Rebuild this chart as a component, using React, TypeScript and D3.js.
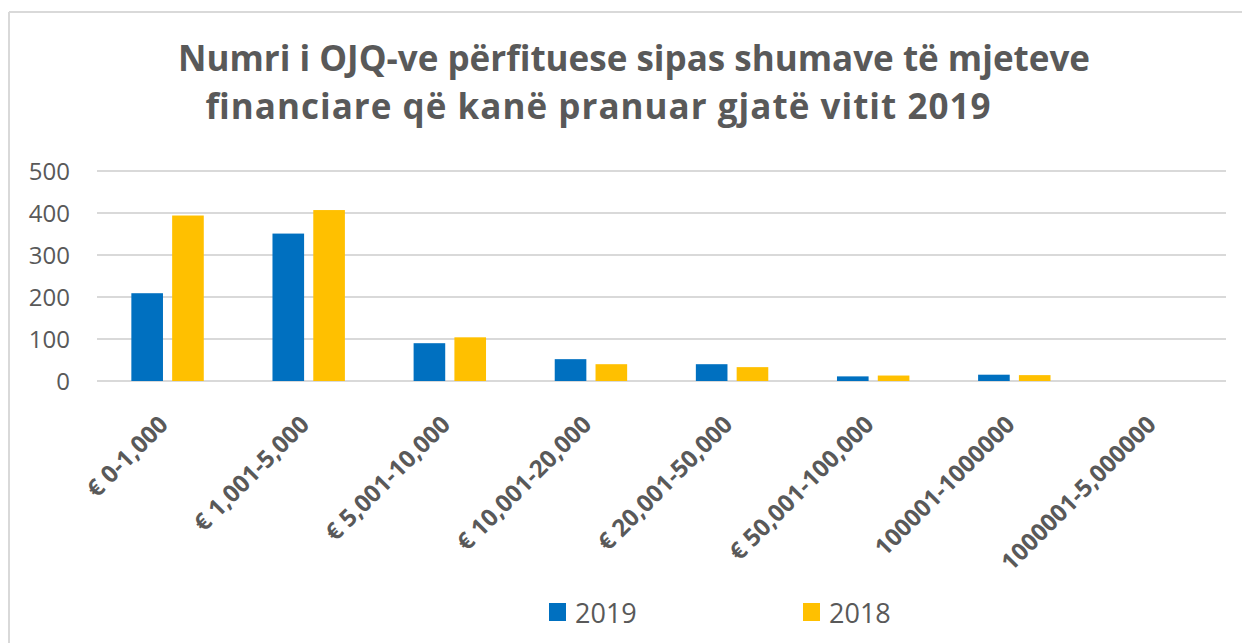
import React from 'react';
import * as d3 from 'd3';

// chart data
const categories = [
  '€ 0-1,000',
  '€ 1,001-5,000',
  '€ 5,001-10,000',
  '€ 10,001-20,000',
  '€ 20,001-50,000',
  '€ 50,001-100,000',
  '100001-1000000',
  '1000001-5,000000',
];
const seriesNames = ['2019', '2018'];
const values2019 = [209, 351, 90, 52, 40, 11, 15, 0];
const values2018 = [394, 407, 104, 40, 33, 13, 14, 0];
const yTicks = [0, 100, 200, 300, 400, 500];
const titleLines = [
  'Numri i OJQ-ve përfituese sipas shumave të mjeteve',
  'financiare që kanë pranuar gjatë vitit 2019',
];

const colors: Record<string, string> = { '2019': '#0070C0', '2018': '#FFC000' };
const textColor = '#595959';
const gridColor = '#d9d9d9';
const font = '"Open Sans", "Noto Sans", sans-serif';

const W = 1242;
const H = 643;

const App = () => {
  const x0 = d3.scaleBand<string>()
    .domain(categories)
    .range([97, 1226])
    .paddingInner(0)
    .paddingOuter(0);

  const x1 = d3.scaleBand<string>()
    .domain(seriesNames)
    .range([0, x0.bandwidth()])
    .paddingInner(0.225)
    .paddingOuter(0.842);

  const y = d3.scaleLinear().domain([0, 500]).range([381, 171]);

  const seriesValues: Record<string, number[]> = { '2019': values2019, '2018': values2018 };

  return (
    <svg width={W} height={H} style={{ position: 'absolute', left: 0, top: 0, background: '#fff' }}
      fontFamily={font}>
      {/* chart frame (only the top and left edges are in view) */}
      <line x1={9} x2={W} y1={12} y2={12} stroke={gridColor} strokeWidth={2} />
      <line x1={9} x2={9} y1={12} y2={H} stroke={gridColor} strokeWidth={2} />

      {/* title */}
      <text x={634} y={71} textAnchor="middle" fontSize={35} fontWeight="bold" fill={textColor}>
        {titleLines[0]}
      </text>
      <text x={598} y={119} textAnchor="middle" fontSize={35} fontWeight="bold" fill={textColor}
        textLength={785} lengthAdjust="spacing">
        {titleLines[1]}
      </text>

      {/* gridlines + y labels */}
      {yTicks.map(t => (
        <g key={t}>
          <line x1={97} x2={1226} y1={y(t)} y2={y(t)} stroke={gridColor} strokeWidth={2} />
          <text x={70} y={y(t) + 8.5} textAnchor="end" fontSize={24} fill={textColor}>{t}</text>
        </g>
      ))}

      {/* bars */}
      {categories.map((c, i) => (
        <g key={c} transform={`translate(${x0(c)},0)`}>
          {seriesNames.map(s => {
            const v = seriesValues[s][i];
            return (
              <rect key={s}
                x={x1(s)}
                y={y(v)}
                width={x1.bandwidth()}
                height={y(0) - y(v)}
                fill={colors[s]} />
            );
          })}
        </g>
      ))}

      {/* x labels, rotated */}
      {categories.map(c => {
        const cx = (x0(c) ?? 0) + x0.bandwidth() / 2;
        return (
          <text key={c}
            transform={`translate(${cx + 2},${426}) rotate(-45)`}
            textAnchor="end" fontSize={24} fontWeight="bold" fill={textColor}>
            {c}
          </text>
        );
      })}

      {/* legend */}
      {seriesNames.map((s, i) => {
        const lx = [549, 803][i];
        return (
          <g key={s}>
            <rect x={lx} y={603} width={17} height={18} fill={colors[s]} />
            <text x={lx + 26} y={622.5} fontSize={27} fill={textColor}>{s}</text>
          </g>
        );
      })}
    </svg>
  );
};

export default App;
